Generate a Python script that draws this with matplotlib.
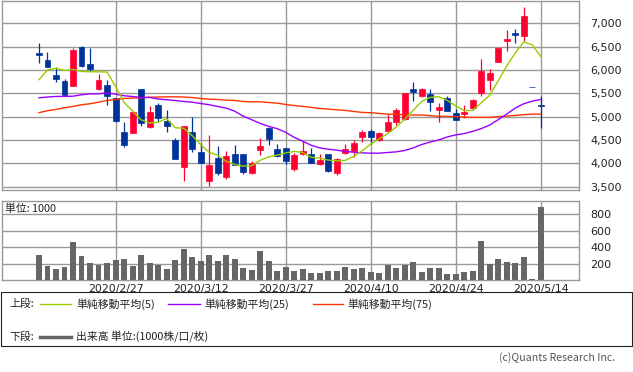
import numpy as np
import matplotlib.pyplot as plt
from matplotlib.lines import Line2D
from matplotlib.patches import Rectangle

plt.rcParams['font.family'] = ['Noto Sans CJK JP', 'DejaVu Sans']

# daily candles, 2020/2/13 .. 2020/5/14 (60 trading days)
opens = [6370, 6219, 5885, 5772, 5651, 6496, 6134, 5602, 5687, 5410,
         4666, 4644, 5602, 4772, 5240, 4900, 4495, 3927, 4666, 4234,
         3629, 4112, 3714, 4191, 4191, 3800, 4283, 4766, 4304, 4325,
         3884, 4204, 4197, 3991, 4197, 3800, 4225, 4268, 4566, 4693,
         4502, 4693, 4885, 4957, 5602, 5438, 5481, 5140, 5410, 5070,
         5049, 5183, 5502, 5779, 6162, 6623, 6794, 6736, 5640, 5255]
highs = [6580, 6389, 6070, 5815, 6474, 6517, 6474, 5921, 5793, 5410,
         4876, 5091, 5602, 5219, 5283, 5134, 4538, 4808, 5000, 4431,
         4602, 4368, 4261, 4389, 4191, 4042, 4538, 4787, 4410, 4325,
         4219, 4474, 4325, 4197, 4197, 4119, 4417, 4495, 4708, 4736,
         4666, 5049, 5176, 5517, 5751, 5623, 5602, 5283, 5453, 5155,
         5240, 5368, 6240, 6027, 6496, 6857, 6879, 7347, 5640, 5453]
lows = [6140, 6055, 5736, 5438, 5651, 6070, 5985, 5581, 5240, 4878,
        4353, 4644, 4793, 4751, 4878, 4672, 4098, 3629, 4246, 4006,
        3523, 3757, 3672, 3970, 3778, 3778, 4176, 4395, 4140, 3991,
        3842, 4183, 4006, 3970, 3821, 3757, 4197, 4140, 4459, 4425,
        4480, 4693, 4821, 4936, 5332, 5417, 5119, 4885, 5119, 4928,
        4970, 5134, 5438, 5581, 6162, 6396, 6587, 6623, 5640, 4757]
closes = [6310, 6055, 5800, 5459, 6432, 6091, 6027, 5793, 5432, 4900,
          4389, 5091, 4857, 5091, 4970, 4800, 4098, 4808, 4310, 4006,
          3963, 3800, 4155, 3970, 3821, 4000, 4383, 4523, 4155, 4055,
          4176, 4261, 4006, 4070, 3842, 4098, 4304, 4432, 4666, 4566,
          4644, 4878, 5134, 5496, 5523, 5602, 5310, 5198, 5119, 4928,
          5091, 5347, 5985, 5942, 6474, 6666, 6757, 7155, 5640, 5225]

ma5 = [5790, 6000, 6035, 5990, 6011, 5967, 5962, 5960, 5955, 5649,
       5308, 5121, 4934, 4866, 4880, 4962, 4763, 4753, 4597, 4404,
       4237, 4177, 4047, 3979, 3942, 3949, 4066, 4139, 4176, 4223,
       4258, 4234, 4131, 4114, 4071, 4055, 4064, 4149, 4268, 4413,
       4522, 4637, 4778, 4944, 5135, 5327, 5413, 5426, 5350, 5231,
       5129, 5137, 5294, 5459, 5768, 6083, 6365, 6599, 6538, 6289]
ma25 = [5404, 5420, 5432, 5435, 5438, 5468, 5489, 5489, 5510, 5481,
        5447, 5432, 5411, 5411, 5380, 5361, 5347, 5325, 5310, 5283,
        5255, 5219, 5183, 5119, 5012, 4936, 4857, 4793, 4744, 4666,
        4559, 4474, 4390, 4332, 4304, 4283, 4255, 4240, 4225, 4219,
        4219, 4234, 4247, 4276, 4332, 4404, 4459, 4502, 4566, 4610,
        4638, 4687, 4744, 4821, 4936, 5055, 5183, 5276, 5332, 5368]
ma75 = [5085, 5127, 5155, 5191, 5219, 5255, 5276, 5310, 5347, 5368,
        5389, 5396, 5404, 5417, 5420, 5425, 5425, 5420, 5410, 5389,
        5374, 5368, 5353, 5347, 5325, 5318, 5318, 5304, 5290, 5261,
        5240, 5219, 5200, 5176, 5162, 5148, 5134, 5112, 5091, 5085,
        5070, 5055, 5049, 5042, 5035, 5035, 5021, 5006, 5006, 5000,
        4990, 4985, 4985, 4985, 5000, 5012, 5027, 5042, 5055, 5055]

volume = [303, 170, 133, 158, 461, 291, 206, 182, 206, 242,
          255, 170, 303, 206, 182, 133, 242, 376, 279, 230,
          303, 230, 303, 255, 145, 121, 351, 230, 109, 158,
          109, 133, 85, 85, 109, 109, 158, 133, 145, 97,
          85, 182, 145, 182, 218, 97, 145, 145, 73, 73,
          97, 109, 473, 194, 255, 218, 206, 279, 12, 885]

date_pos = [9, 19, 29, 39, 49, 59]
date_labels = ['2020/2/27', '2020/3/12', '2020/3/27', '2020/4/10', '2020/4/24', '2020/5/14']
price_ticks = [3500, 4000, 4500, 5000, 5500, 6000, 6500, 7000]
vol_ticks = [200, 400, 600, 800]

UP = '#ff0033'
DOWN = '#003399'
GRID = '#999999'
TXT = '#222222'

W, H = 633, 372
fig = plt.figure(figsize=(W / 100, H / 100), dpi=100)
ax = fig.add_axes([2 / W, 1 - 190 / H, 577 / W, 189 / H])
axv = fig.add_axes([2 / W, 1 - 280 / H, 577 / W, 79 / H])

x = np.arange(len(closes))
o = np.array(opens)
c = np.array(closes)
cols = [UP if cc > oo else DOWN for oo, cc in zip(o, c)]

ax.vlines(x, lows, highs, colors=cols, linewidth=0.9, zorder=2)
ax.bar(x, np.abs(c - o), bottom=np.minimum(o, c), width=0.7, color=cols,
       edgecolor=cols, linewidth=0.5, zorder=3)
ax.plot(x, ma75, color='#ff3300', lw=1.0, zorder=4)
ax.plot(x, ma25, color='#9900ff', lw=1.0, zorder=4)
ax.plot(x, ma5, color='#99cc00', lw=1.0, zorder=4)

axv.bar(x, volume, width=0.7, color='#666666', zorder=3)

for a in (ax, axv):
    a.set_xlim(-4.35, 63.5)
    a.set_xticks(date_pos)
    a.grid(True, color=GRID, linewidth=1.0, zorder=0)
    a.set_axisbelow(True)
    for s in a.spines.values():
        s.set_color(GRID)
        s.set_linewidth(1.0)
    a.yaxis.tick_right()
    a.tick_params(length=0, labelsize=8, colors=TXT, pad=8)

ax.set_ylim(3431, 7475)
ax.set_yticks(price_ticks)
ax.set_yticklabels([f'{v:,}' for v in price_ticks], family='DejaVu Sans')
ax.set_xticklabels([])

axv.set_ylim(0, 958)
axv.set_yticks(vol_ticks)
axv.set_yticklabels([str(v) for v in vol_ticks], family='DejaVu Sans')
axv.set_xticklabels(date_labels, family='DejaVu Sans')
axv.tick_params(axis='x', pad=3, labelsize=7.8)
axv.text(0.006, 0.9, '単位: 1000', transform=axv.transAxes, fontsize=7.8,
         va='center', ha='left', color=TXT)

# legend box
fig.patches.append(Rectangle((0.5 / W, 1 - 346 / H), 631 / W, 54 / H,
                             transform=fig.transFigure, fill=False,
                             edgecolor=TXT, linewidth=0.8))

def fx(px):
    return px / W

def fy(py):
    return 1 - py / H

fs = 7.8
fig.text(fx(9), fy(304), '上段:', fontsize=fs, va='center', color=TXT)
fig.text(fx(9), fy(337), '下段:', fontsize=fs, va='center', color=TXT)
leg = [(40, 71, 76, '#99cc00', '単純移動平均(5)'),
       (168, 200, 204, '#9900ff', '単純移動平均(25)'),
       (313, 343, 347, '#ff3300', '単純移動平均(75)')]
for x0, x1, tx, col, lab in leg:
    fig.lines.append(Line2D([fx(x0), fx(x1)], [fy(304), fy(304)],
                            transform=fig.transFigure, color=col, lw=1.0))
    fig.text(fx(tx), fy(304), lab, fontsize=fs, va='center', color=TXT)
fig.lines.append(Line2D([fx(40), fx(71)], [fy(337), fy(337)],
                        transform=fig.transFigure, color='#666666', lw=2.5))
fig.text(fx(76), fy(337), '出来高 単位:(1000株/口/枚)', fontsize=fs, va='center',
         color=TXT)

fig.text(fx(615), fy(358), '(c)Quants Research Inc.', fontsize=7.6, va='center',
         ha='right', color='#555555')

fig.savefig('out.png', dpi=100)
